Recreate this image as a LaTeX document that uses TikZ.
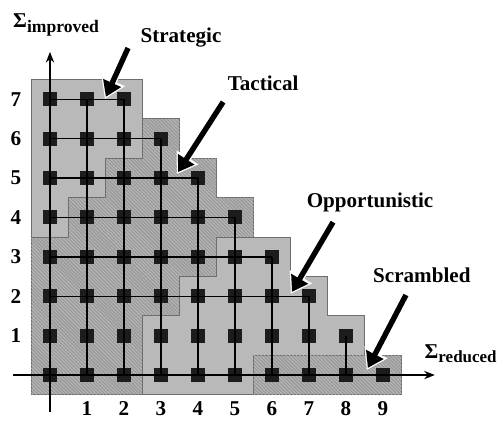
\documentclass[tikz,border=0pt]{standalone}
\usepackage{fontspec}
\setmainfont{Liberation Serif}
\usetikzlibrary{arrows.meta,patterns}

\begin{document}
\begin{tikzpicture}[x=1.11cm,y=1.182cm,
  cell/.style={rectangle,fill=cellblack,minimum size=0.42cm,inner sep=0pt},
  gridline/.style={line width=1.2pt},
  axis/.style={line width=2pt,-{Stealth[length=9pt,width=7pt]}},
  region/.style={draw=edgegray,line width=0.9pt},
  hatched/.style={region,fill=hatchgray,postaction={pattern=north west lines,pattern color=stripegray}},
  plain/.style={region,fill=plaingray},
  pointer/.style={line width=4.6pt,-{Triangle[length=13pt,width=16pt]}},
  halo/.style={draw=white,line width=7pt,shorten >=-2pt,-{Triangle[length=17pt,width=21pt]}},
  lbl/.style={font=\fontsize{18}{20}\selectfont\bfseries,inner sep=0pt}]
\definecolor{cellblack}{HTML}{1C1C1C}
\definecolor{edgegray}{HTML}{6E6E6E}
\definecolor{hatchgray}{HTML}{9C9C9C}
\definecolor{stripegray}{HTML}{C4C4C4}
\definecolor{plaingray}{HTML}{B9B9B9}
\useasboundingbox (-1.351,-1.168) rectangle (12.162,9.518);
% regions
\draw[hatched] (-0.5,-0.5) -- (-0.5,6.5) -- (3.5,6.5) -- (3.5,5.5) -- (4.5,5.5) -- (4.5,4.5) -- (5.5,4.5) -- (5.5,-0.5) -- cycle;
\draw[plain] (-0.5,7.5) -- (2.5,7.5) -- (2.5,5.5) -- (1.5,5.5) -- (1.5,4.5) -- (0.5,4.5) -- (0.5,3.5) -- (-0.5,3.5) -- cycle;
\draw[plain] (2.5,-0.5) -- (2.5,1.5) -- (3.5,1.5) -- (3.5,2.5) -- (4.5,2.5) -- (4.5,3.5) -- (6.5,3.5) -- (6.5,2.5) -- (7.5,2.5) -- (7.5,1.5) -- (8.5,1.5) -- (8.5,-0.5) -- cycle;
\draw[hatched] (5.5,-0.5) rectangle (9.5,0.5);
% grid
\foreach \i/\top in {0/7,1/7,2/7,3/6,4/5,5/4,6/3,7/2,8/1,9/0}
  \foreach \j in {0,...,\top}
    {\node[cell] (p-\i-\j) at (\i,\j) {};}
\foreach \i/\top in {1/7,2/7,3/6,4/5,5/4,6/3,7/2,8/1}
  {\draw[gridline] (p-\i-0.center) -- (p-\i-\top.center);}
\foreach \j/\right in {2/7,3/6,4/5,5/4,6/3,7/2}
  {\draw[gridline] (p-0-\j.center) -- (p-\right-\j.center);}
% axes
\coordinate (y-start) at (0,-0.94);
\coordinate (y-end) at (0,8.2);
\coordinate (x-start) at (-1.0,0);
\coordinate (x-end) at (10.4,0);
\draw[axis] (y-start) -- (y-end);
\draw[axis] (x-start) -- (x-end);
\foreach \j in {1,...,7}
  {\node[lbl] (ylab-\j) at (-0.92,\j) {\j};}
\foreach \i in {1,...,9}
  {\node[lbl] (xlab-\i) at (\i,-0.86) {\i};}
\node[lbl,anchor=base west] (sum-improved) at (-1.0,8.81) {Σ\raisebox{-4pt}{\fontsize{15}{16}\selectfont improved}};
\node[lbl,anchor=base west] (sum-reduced) at (10.12,0.43) {Σ\raisebox{-4pt}{\fontsize{14.5}{16}\selectfont reduced}};
% labels and pointers
\node[lbl,anchor=base] (strategic) at (3.54,8.45) {Strategic};
\node[lbl,anchor=base] (tactical) at (5.76,7.23) {Tactical};
\node[lbl,anchor=base] (opportunistic) at (8.65,4.26) {Opportunistic};
\node[lbl,anchor=base] (scrambled) at (10.05,2.36) {Scrambled};
\coordinate (strat-tail) at (2.11,8.3);   \coordinate (strat-tip) at (1.51,7.06);
\coordinate (tact-tail) at (4.68,6.93);   \coordinate (tact-tip) at (3.46,5.15);
\coordinate (opp-tail) at (7.65,3.88);    \coordinate (opp-tip) at (6.54,2.11);
\coordinate (scr-tail) at (9.62,2.03);    \coordinate (scr-tip) at (8.59,0.18);
\foreach \r in {strat,tact,opp,scr}
  {\draw[halo] (\r-tail) -- (\r-tip);
   \draw[pointer] (\r-tail) -- (\r-tip);}
\end{tikzpicture}
\end{document}
